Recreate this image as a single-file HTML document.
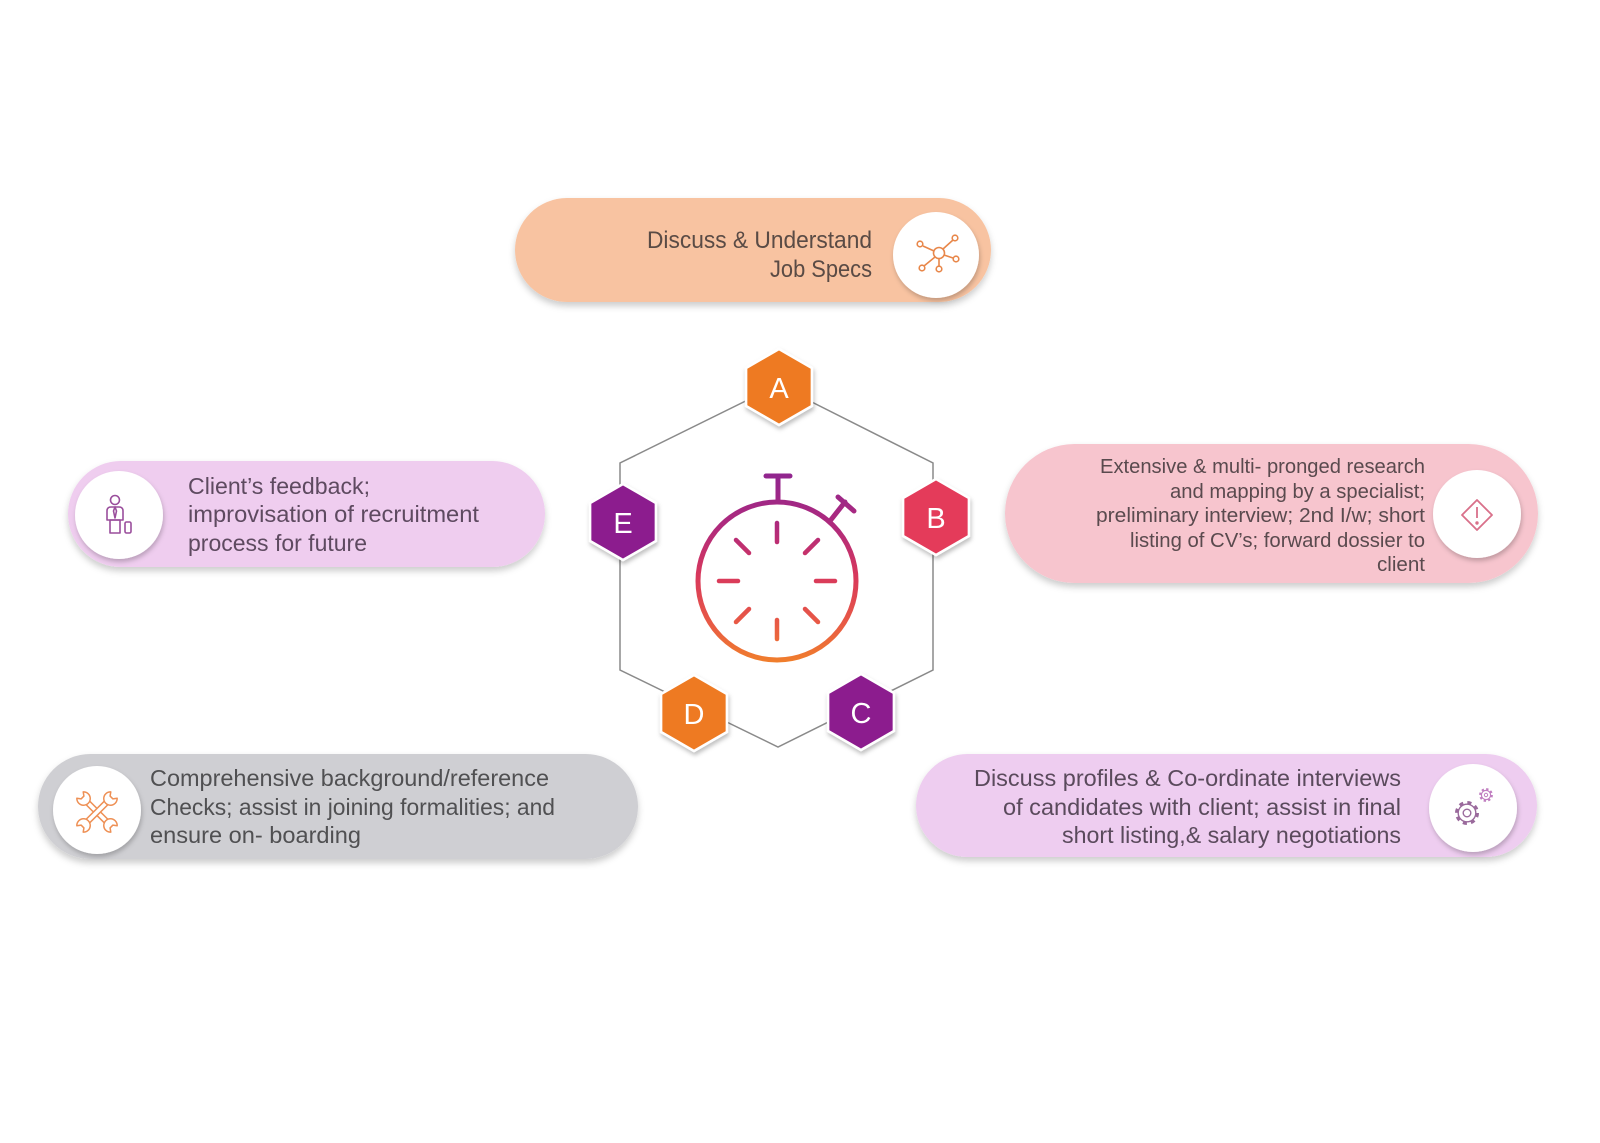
<!DOCTYPE html>
<html><head><meta charset="utf-8"><style>
html,body{margin:0;padding:0;background:#fff;}
svg{display:block;}
text{font-family:"Liberation Sans",sans-serif;}
</style></head><body>
<svg width="1600" height="1143" viewBox="0 0 1600 1143" xmlns="http://www.w3.org/2000/svg">
<defs>
<filter id="sh" x="-10%" y="-20%" width="120%" height="150%">
<feDropShadow dx="0" dy="4" stdDeviation="3.5" flood-color="#000" flood-opacity="0.2"/>
</filter>
<filter id="shc" x="-30%" y="-30%" width="160%" height="170%">
<feDropShadow dx="1" dy="3" stdDeviation="2.5" flood-color="#000" flood-opacity="0.22"/>
</filter>
<filter id="shh" x="-30%" y="-30%" width="160%" height="170%">
<feDropShadow dx="1" dy="3" stdDeviation="2" flood-color="#000" flood-opacity="0.25"/>
</filter>
<linearGradient id="sw" gradientUnits="userSpaceOnUse" x1="0" y1="470" x2="0" y2="662">
<stop offset="0" stop-color="#8E2590"/>
<stop offset="0.3" stop-color="#B02A7C"/>
<stop offset="0.55" stop-color="#D8385C"/>
<stop offset="0.8" stop-color="#E85A45"/>
<stop offset="1" stop-color="#F07E2C"/>
</linearGradient>
</defs>

<!-- Pills -->
<rect x="515" y="198" width="476" height="104" rx="52" fill="#F8C3A1" filter="url(#sh)"/>
<rect x="1005" y="444" width="533" height="139" rx="69.5" fill="#F7C5CE" filter="url(#sh)"/>
<rect x="68" y="461" width="477" height="106" rx="53" fill="#EFCDEF" filter="url(#sh)"/>
<rect x="38" y="754" width="600" height="105" rx="52.5" fill="#CFCFD3" filter="url(#sh)"/>
<rect x="916" y="754" width="621" height="103" rx="51.5" fill="#EECDF0" filter="url(#sh)"/>

<!-- Icon circles -->
<circle cx="936" cy="255" r="43" fill="#fff" filter="url(#shc)"/>
<circle cx="1477" cy="514" r="44" fill="#fff" filter="url(#shc)"/>
<circle cx="119" cy="515" r="44" fill="#fff" filter="url(#shc)"/>
<circle cx="97" cy="810" r="44" fill="#fff" filter="url(#shc)"/>
<circle cx="1473" cy="808" r="44" fill="#fff" filter="url(#shc)"/>

<!-- Icon A: hub -->
<g stroke="#E8874A" stroke-width="1.6" fill="none">
<circle cx="939" cy="253" r="5.5"/>
<line x1="943" y1="249" x2="953" y2="240"/><circle cx="955" cy="238" r="2.8"/>
<line x1="944" y1="255" x2="953" y2="258"/><circle cx="956" cy="259" r="2.8"/>
<line x1="939" y1="258.5" x2="939" y2="266"/><circle cx="939" cy="269" r="2.8"/>
<line x1="935" y1="257" x2="924" y2="266"/><circle cx="922" cy="268" r="2.8"/>
<line x1="934" y1="251" x2="923" y2="246"/><circle cx="920" cy="244" r="2.8"/>
</g>

<!-- Icon B: diamond warning -->
<g stroke="#D9708A" stroke-width="1.8" fill="none" stroke-linejoin="round">
<path d="M1477 500 L1492 515 L1477 530 L1462 515 Z"/>
<line x1="1477" y1="507" x2="1477" y2="518"/>
<circle cx="1477" cy="523" r="0.8" fill="#D9708A"/>
</g>

<!-- Icon E: person -->
<g stroke="#9A4E9C" stroke-width="1.6" fill="none" stroke-linejoin="round">
<circle cx="115" cy="500" r="4.5"/>
<path d="M107 520 L107 511 Q107 507 111 507 L119 507 Q123 507 123 511 L123 520 Z"/>
<path d="M115 507 L113.5 511 L115 518 L116.5 511 Z"/>
<rect x="110" y="520" width="10" height="13"/>
<rect x="125" y="522" width="6" height="11" rx="1.5"/>
</g>

<!-- Icon D: crossed wrenches -->
<g stroke="#EE9055" stroke-width="1.5" fill="none" stroke-linejoin="round">
<g transform="translate(97 812) rotate(45)">
<rect x="-13" y="-2.5" width="26" height="5"/>
<path d="M24 -4.5 L20.5 -2 L20.5 2 L24 4.5 A6.7 6.7 0 1 1 24 -4.5 Z" fill="#fff"/>
<g transform="scale(-1 1)"><path d="M24 -4.5 L20.5 -2 L20.5 2 L24 4.5 A6.7 6.7 0 1 1 24 -4.5 Z" fill="#fff"/></g>
</g>
<g transform="translate(97 812) rotate(-45)">
<rect x="-13" y="-2.5" width="26" height="5" fill="#fff"/>
<path d="M24 -4.5 L20.5 -2 L20.5 2 L24 4.5 A6.7 6.7 0 1 1 24 -4.5 Z" fill="#fff"/>
<g transform="scale(-1 1)"><path d="M24 -4.5 L20.5 -2 L20.5 2 L24 4.5 A6.7 6.7 0 1 1 24 -4.5 Z" fill="#fff"/></g>
</g>
</g>

<!-- Icon C: gears -->
<g fill="none">
<circle cx="1467" cy="813" r="10.5" stroke="#9A6A9C" stroke-width="3" stroke-dasharray="4.1 4.15"/>
<circle cx="1467" cy="813" r="8.8" stroke="#9A6A9C" stroke-width="1.4" fill="#fff"/>
<circle cx="1467" cy="813" r="3.8" stroke="#9A6A9C" stroke-width="1.4"/>
<circle cx="1486" cy="795" r="5.8" stroke="#C07EC0" stroke-width="2.2" stroke-dasharray="2.3 2.25"/>
<circle cx="1486" cy="795" r="4.6" stroke="#C07EC0" stroke-width="1.2" fill="#fff"/>
<circle cx="1486" cy="795" r="1.7" stroke="#C07EC0" stroke-width="1"/>
</g>

<!-- Big hexagon outline -->
<polygon points="778,385 933,463 933,670 778,747 620,670 620,463" fill="none" stroke="#8a8a8a" stroke-width="1.5"/>

<!-- Stopwatch -->
<g stroke="url(#sw)" stroke-linecap="round" fill="none">
<circle cx="777" cy="581" r="79" stroke-width="5"/>
<line x1="778" y1="477" x2="778" y2="501" stroke-width="5"/>
<line x1="766" y1="476" x2="790" y2="476" stroke-width="5"/>
<line x1="830" y1="521" x2="845" y2="502" stroke-width="5"/>
<line x1="838" y1="497" x2="854" y2="511" stroke-width="5"/>
<g stroke-width="4.5">
<line x1="777" y1="523" x2="777" y2="542"/>
<line x1="777" y1="620" x2="777" y2="639"/>
<line x1="719" y1="581" x2="738" y2="581"/>
<line x1="816" y1="581" x2="835" y2="581"/>
<line x1="736" y1="540" x2="749" y2="553"/>
<line x1="818" y1="540" x2="805" y2="553"/>
<line x1="736" y1="622" x2="749" y2="609"/>
<line x1="818" y1="622" x2="805" y2="609"/>
</g>
</g>

<!-- Small hexagons -->
<g stroke="#fff" stroke-width="2.5" filter="url(#shh)">
<polygon points="779,349 811.9,368 811.9,406 779,425 746.1,406 746.1,368" fill="#EE7A22"/>
<polygon points="936,479 968.9,498 968.9,536 936,555 903.1,536 903.1,498" fill="#E43A5A"/>
<polygon points="623,484 655.9,503 655.9,541 623,560 590.1,541 590.1,503" fill="#8C1F8E"/>
<polygon points="694,675 726.9,694 726.9,732 694,751 661.1,732 661.1,694" fill="#EE7A22"/>
<polygon points="861,674 893.9,693 893.9,731 861,750 828.1,731 828.1,693" fill="#8C1F8E"/>
</g>
<g fill="#fff" font-size="29" text-anchor="middle">
<text x="779" y="398">A</text>
<text x="936" y="528">B</text>
<text x="623" y="533">E</text>
<text x="694" y="724">D</text>
<text x="861" y="723">C</text>
</g>

<!-- Text A -->
<g fill="#5a4b45" font-size="24">
<text x="647" y="248" textLength="225" lengthAdjust="spacingAndGlyphs">Discuss &amp; Understand</text>
<text x="770" y="277" textLength="102" lengthAdjust="spacingAndGlyphs">Job Specs</text>
</g>

<!-- Text B -->
<g fill="#5a4a4e" font-size="20">
<text x="1100" y="473" textLength="325" lengthAdjust="spacingAndGlyphs">Extensive &amp; multi- pronged research</text>
<text x="1170" y="498" textLength="255" lengthAdjust="spacingAndGlyphs">and  mapping by a specialist;</text>
<text x="1096" y="522" textLength="329" lengthAdjust="spacingAndGlyphs">preliminary interview;  2nd I/w; short</text>
<text x="1130" y="547" textLength="295" lengthAdjust="spacingAndGlyphs">listing of  CV’s; forward dossier to</text>
<text x="1377" y="571" textLength="48" lengthAdjust="spacingAndGlyphs">client</text>
</g>

<!-- Text E -->
<g fill="#5e4a60" font-size="23">
<text x="188" y="494" textLength="182" lengthAdjust="spacingAndGlyphs">Client’s feedback;</text>
<text x="188" y="522" textLength="291" lengthAdjust="spacingAndGlyphs">improvisation of recruitment</text>
<text x="188" y="551" textLength="179" lengthAdjust="spacingAndGlyphs">process for future</text>
</g>

<!-- Text D -->
<g fill="#505052" font-size="23">
<text x="150" y="786" textLength="399" lengthAdjust="spacingAndGlyphs">Comprehensive background/reference</text>
<text x="150" y="815" textLength="405" lengthAdjust="spacingAndGlyphs">Checks; assist in joining formalities; and</text>
<text x="150" y="843" textLength="211" lengthAdjust="spacingAndGlyphs">ensure on- boarding</text>
</g>

<!-- Text C -->
<g fill="#5a4a5c" font-size="23">
<text x="974" y="786" textLength="427" lengthAdjust="spacingAndGlyphs">Discuss profiles &amp; Co-ordinate interviews</text>
<text x="1003" y="815" textLength="398" lengthAdjust="spacingAndGlyphs">of  candidates with client; assist in final</text>
<text x="1062" y="843" textLength="339" lengthAdjust="spacingAndGlyphs">short listing,&amp; salary negotiations</text>
</g>
</svg>
</body></html>
